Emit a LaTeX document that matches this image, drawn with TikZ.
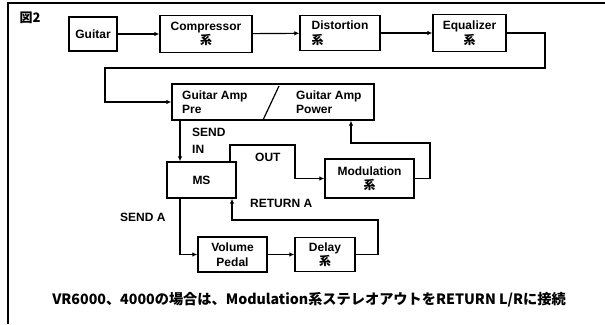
\documentclass[tikz,border=0pt]{standalone}
\usepackage{fontspec}
\setmainfont{Liberation Sans}
\newfontfamily\jpfont{Noto Sans CJK JP}
\usetikzlibrary{arrows.meta, positioning, calc}
\newcommand{\txtsize}{\fontsize{12}{14.5}\selectfont}
\tikzset{
	% boxes of the signal chain
	blk/.style ={rectangle, draw=black, line width=1.3pt, align=center, inner sep=1pt, font=\txtsize\bfseries},
	sig/.style ={-{Latex[length=5pt, width=4.5pt]}, line width=1.2pt},
	wire/.style={line width=1.2pt},
	lbl/.style ={anchor=west, inner sep=0pt, font=\txtsize\bfseries},
}
\newcommand{\kei}{{\jpfont 系}}

\begin{document}
\begin{tikzpicture}[x=1pt, y=-1pt]
	\useasboundingbox (0,0) rectangle (605,324);
	% frame
	\draw[line width=1.5pt] (8,324) -- (8,3) -- (605,3);
	\node[inner sep=0pt, font=\jpfont\bfseries\fontsize{13}{13}\selectfont] (fig) at (30,18) {図2};

	% top row
	\node[blk, minimum width=48pt, minimum height=34pt] (guitar) at (93,34) {Guitar};
	\node[blk, minimum width=92pt, minimum height=37pt] (comp) at (206,34) {Compressor\\\kei};
	\node[blk, minimum width=80pt, minimum height=35pt, align=left] (dist) at (340,33) {Distortion\\\kei};
	\node[blk, minimum width=73pt, minimum height=37pt] (eq) at (469.5,33) {Equalizer\\\kei};

	% amp
	\node[blk, minimum width=202pt, minimum height=36pt] (amp) at (273,102) {};
	\node[lbl, align=left] (ampPre) at (182,102) {Guitar Amp\\Pre};
	\node[lbl, align=left] (ampPow) at (296,102) {Guitar Amp\\Power};
	\draw[wire] (279,86) -- (263,120);

	% loop
	\node[blk, minimum width=69pt, minimum height=36pt] (ms) at (201.5,180) {MS};
	\node[blk, minimum width=89pt, minimum height=39pt] (mod) at (369.5,178.5) {Modulation\\\kei};
	\node[blk, minimum width=69pt, minimum height=35pt] (vol) at (232.5,254.5) {Volume\\Pedal};
	\node[blk, minimum width=60pt, minimum height=34pt] (delay) at (325,254.5) {Delay\\\kei};

	\coordinate (eqR) at (545,68);
	\coordinate (ampL) at (105,68);
	\coordinate (sendX) at (180,0);
	\coordinate (outA) at (230,145);
	\coordinate (outB) at (295,145);
	\coordinate (modR) at (430,143);
	\coordinate (modUp) at (351,0);
	\coordinate (dlyR) at (378,220);
	\coordinate (retA) at (232,0);

	\draw[sig] (guitar) -- (comp);
	\draw[sig] (comp) -- (dist);
	\draw[sig] (dist) -- (eq);
	\draw[sig] (eq.east) -| (eqR) -- (ampL) |- (amp.west);
	\draw[sig] (amp.south -| sendX) -- (ms.north -| sendX);
	\draw[sig] (ms.north -| outA) -- (outA) -- (outB) |- (mod.west);
	\draw[sig] (mod.east) -| (modR) -| (amp.south -| modUp);
	\draw[sig] (ms.south -| sendX) |- (vol.west);
	\draw[sig] (vol) -- (delay);
	\draw[sig] (delay.east) -| (dlyR) -| (ms.south -| retA);

	% labels
	\node[lbl] (sendT) at (192,132) {SEND};
	\node[lbl] (inT) at (192,149) {IN};
	\node[lbl] (outT) at (255,157) {OUT};
	\node[lbl] (retT) at (250,203) {RETURN A};
	\node[lbl] (sendA) at (120,217) {SEND A};
	\node[inner sep=0pt, font=\jpfont\bfseries\fontsize{14.2}{14.2}\selectfont] (note) at (309,300) {VR6000、4000の場合は、Modulation系ステレオアウトをRETURN L/Rに接続};
\end{tikzpicture}
\end{document}
